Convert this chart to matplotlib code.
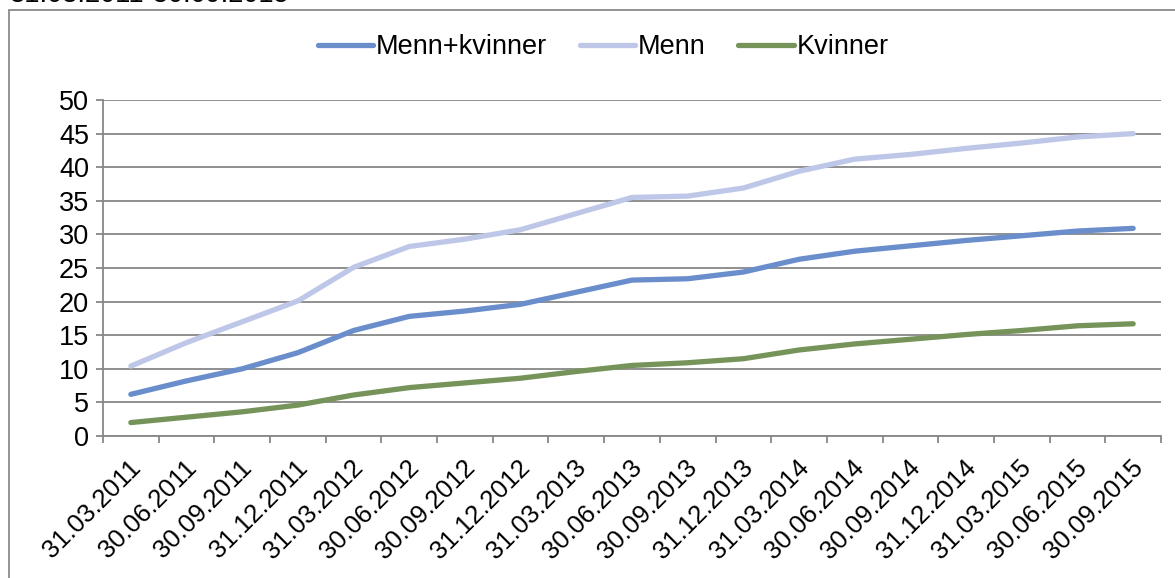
import matplotlib
matplotlib.use("Agg")
import matplotlib.pyplot as plt
import matplotlib.transforms as mtransforms
from matplotlib.patches import Rectangle

plt.rcParams['font.family'] = ['Liberation Sans', 'DejaVu Sans']

dates = ["31.03.2011", "30.06.2011", "30.09.2011", "31.12.2011",
         "31.03.2012", "30.06.2012", "30.09.2012", "31.12.2012",
         "31.03.2013", "30.06.2013", "30.09.2013", "31.12.2013",
         "31.03.2014", "30.06.2014", "30.09.2014", "31.12.2014",
         "31.03.2015", "30.06.2015", "30.09.2015"]
menn_kvinner = [6.2, 8.2, 10.0, 12.4, 15.7, 17.8, 18.6, 19.6, 21.4, 23.2,
                23.4, 24.4, 26.3, 27.5, 28.3, 29.1, 29.8, 30.5, 30.9]
menn = [10.4, 13.9, 17.0, 20.1, 25.1, 28.2, 29.3, 30.7, 33.1, 35.5,
        35.7, 36.9, 39.4, 41.2, 41.9, 42.8, 43.6, 44.5, 45.0]
kvinner = [2.0, 2.8, 3.6, 4.6, 6.1, 7.2, 7.9, 8.6, 9.6, 10.5,
           10.9, 11.5, 12.8, 13.7, 14.4, 15.1, 15.7, 16.4, 16.7]
series_names = ["Menn+kvinner", "Menn", "Kvinner"]
colors = ["#6A8DCB", "#BEC7E7", "#76945A"]
title_text = "31.03.2011-30.09.2015"

W, H = 1175, 578
fig = plt.figure(figsize=(W / 100, H / 100), dpi=100)

# outer border
fig.patches.append(Rectangle((9 / W, -0.1), 1.2, 1 - 10 / H + 0.1,
                             transform=fig.transFigure, fill=False,
                             edgecolor="#8A8A8A", linewidth=1.3))
fig.text(10 / W, 1 - 1.5 / H, title_text, fontsize=19.5, ha="left",
         va="baseline", color="black")

ax = fig.add_axes([103 / W, (H - 436) / H, 1058 / W, 336 / H])
x = list(range(len(dates)))
gray = "#878787"
for vals, name, c in zip([menn_kvinner, menn, kvinner], series_names, colors):
    ax.plot(x, vals, color=c, linewidth=3.8, label=name,
            solid_capstyle="round", solid_joinstyle="round")

ax.set_xlim(-0.5, len(dates) - 0.5)
ax.set_ylim(0, 50)
ax.set_yticks(range(0, 51, 5))
ax.yaxis.grid(True, color=gray, linewidth=1.3)
ax.set_axisbelow(True)
for s in ["top", "right"]:
    ax.spines[s].set_visible(False)
for s in ["left", "bottom"]:
    ax.spines[s].set_color(gray)
    ax.spines[s].set_linewidth(1.3)

ax.tick_params(axis="y", length=5, width=1.3, color=gray, pad=5,
               labelsize=19.5)
ax.set_xticks([i - 0.5 for i in range(len(dates) + 1)])
ax.set_xticklabels([])
ax.tick_params(axis="x", which="major", length=5, width=1.3, color=gray)
ax.set_xticks(x, minor=True)
ax.set_xticklabels(dates, minor=True, rotation=45, ha="right", va="center",
                   rotation_mode="anchor", fontsize=18.5)
ax.tick_params(axis="x", which="minor", length=0, pad=20)
offset = mtransforms.ScaledTranslation(6 / 100, 0, fig.dpi_scale_trans)
for lab in ax.get_xticklabels(minor=True):
    lab.set_transform(lab.get_transform() + offset)

fig.legend(loc="center", bbox_to_anchor=(603 / W, 1 - 47 / H), ncol=3,
           frameon=False, fontsize=19.5, handlelength=2.05,
           handletextpad=0.1, columnspacing=1.2, borderpad=0)

fig.savefig("out.png", dpi=100)
